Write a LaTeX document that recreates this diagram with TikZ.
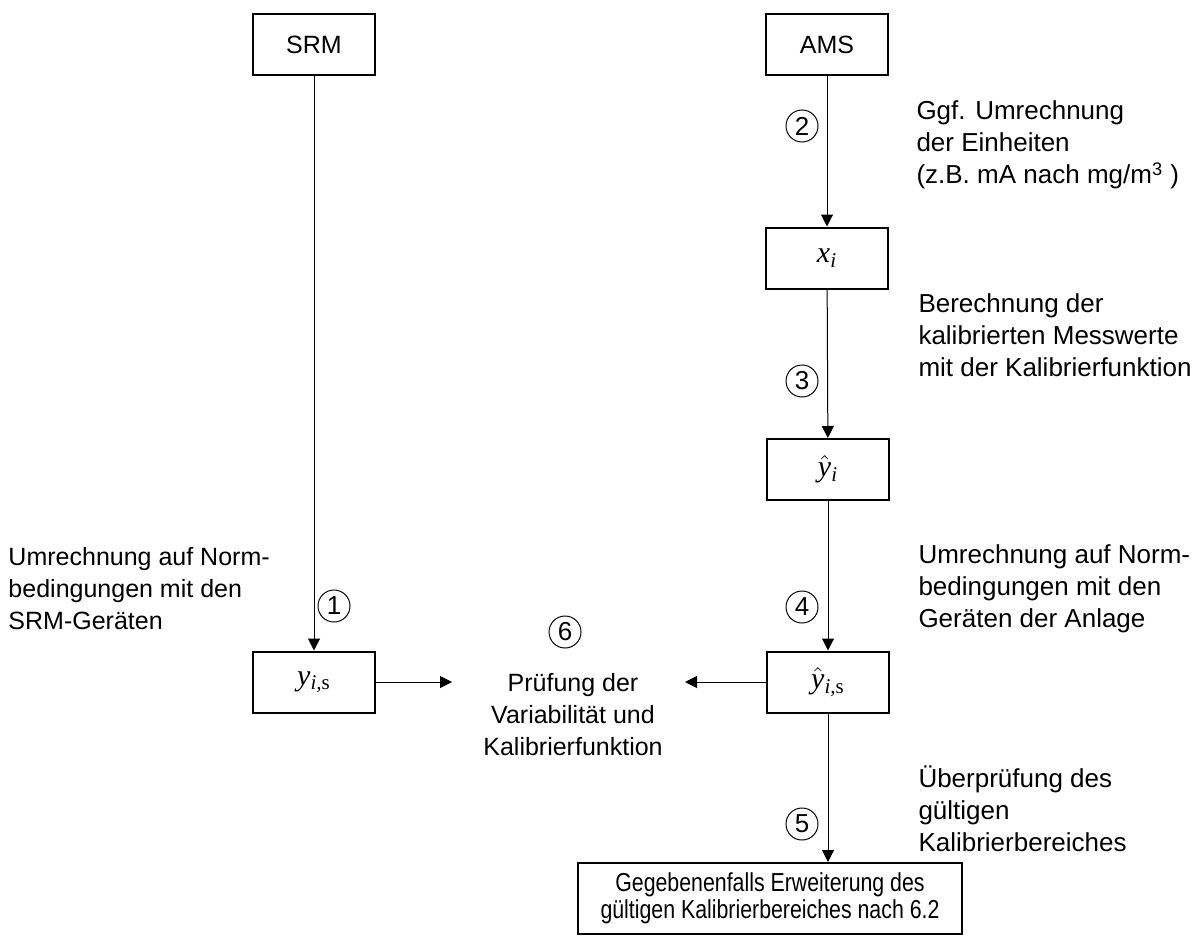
\documentclass[tikz,border=0pt]{standalone}
\usepackage{fontspec}
\setmainfont{Liberation Sans}
\newfontfamily\serif{Liberation Serif}
\usetikzlibrary{arrows.meta}

\newcommand{\vx}{\mbox{\serif\itshape x}}
\newcommand{\vy}{\mbox{\serif\itshape y}}
\newcommand{\sub}[1]{\textsubscript{\serif #1}}

\tikzset{every picture/.style={line width=0.5pt}}
\tikzset{
  box/.style={draw, line width=1pt, minimum width=61pt, minimum height=30.5pt, inner sep=0pt, font=\fontsize{12.5}{15}\selectfont},
  mathbox/.style={box, font=\fontsize{15}{15}\selectfont},
  num/.style={draw, circle, minimum size=16pt, inner sep=0pt, font=\fontsize{13}{15}\selectfont},
  note/.style={inner sep=0pt, align=left, anchor=west, font=\fontsize{12.5}{16}\selectfont},
  rnote/.style={note, font=\fontsize{13}{16}\selectfont},
  flow/.style={-{Triangle[length=6pt,width=6pt]}},
}

\begin{document}
\begin{tikzpicture}[x=0.5pt,y=0.5pt,yscale=-1,xscale=1]
\useasboundingbox (0,0) rectangle (1202,936);

%Shape: Rectangle [SRM]
\node [box] (srm) at (314,45) {SRM};
%Shape: Rectangle [AMS]
\node [box] (ams) at (827,45) {AMS};
%Shape: Rectangle [x_i]
\node [mathbox] (xi) at (827,258) {\vx\sub{\itshape i}};
%Shape: Rectangle [y hat]
\node [mathbox] (yhat) at (828,469.5) {$\hat{\vy}$\sub{\itshape i}};
%Shape: Rectangle [y hat s]
\node [mathbox] (yhats) at (828,682) {$\hat{\vy}$\sub{\itshape i,\upshape s}};
%Shape: Rectangle [y s]
\node [mathbox] (ys) at (314,682) {\vy\sub{\itshape i,\upshape s}};
%Shape: Rectangle [Erweiterung]
\node [box, minimum width=192pt, minimum height=35.5pt, align=center, font=\fontsize{13}{13.5}\selectfont\addfontfeatures{FakeStretch=0.82}] (ext) at (770,898.5) {Gegebenenfalls Erweiterung des\\gültigen Kalibrierbereiches nach 6.2};

%Straight Lines
\draw [flow] (srm) -- (ys);
\draw [flow] (ams) -- (xi);
\draw [flow] (xi) -- (yhat);
\draw [flow] (yhat) -- (yhats);
\draw [flow] (yhats.south) -- (ext.north -| yhats.south);

\coordinate (inL) at (452,682);
\coordinate (inR) at (685,682);
\draw [flow] (ys) -- (inL);
\draw [flow] (yhats) -- (inR);

%Circled numbers
\node [num] (n1) at (334,606) {1};
\node [num] (n2) at (802,126) {2};
\node [num] (n3) at (802,381) {3};
\node [num] (n4) at (802,607) {4};
\node [num] (n5) at (802,824) {5};
\node [num] (n6) at (565,632) {6};

% Text Node
\node [note] (t1) at (8,589) {Umrechnung auf Norm-\\bedingungen mit den\\SRM-Geräten};
% Text Node
\node [rnote] (t2) at (916,145) {Ggf. Umrechnung\\der Einheiten\\(z.B. mA nach mg/m\textsuperscript{3} )};
% Text Node
\node [rnote] (t3) at (918,335) {Berechnung der\\kalibrierten Messwerte\\mit der Kalibrierfunktion};
% Text Node
\node [rnote] (t4) at (918,589) {Umrechnung auf Norm-\\bedingungen mit den\\Geräten der Anlage};
% Text Node
\node [rnote] (t5) at (918,809) {Überprüfung des\\gültigen\\Kalibrierbereiches};
% Text Node
\node [note, align=center, anchor=center] (t6) at (573,715) {Prüfung der\\Variabilität und\\Kalibrierfunktion};

\end{tikzpicture}
\end{document}
